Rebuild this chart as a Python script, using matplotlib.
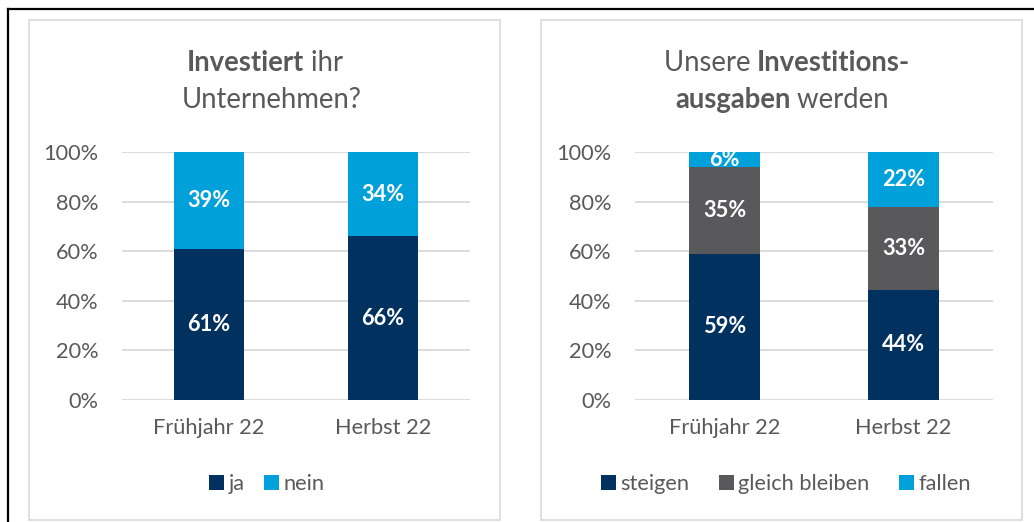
import matplotlib
matplotlib.use("Agg")
import matplotlib.pyplot as plt
from matplotlib.patches import Rectangle
from matplotlib.lines import Line2D
import numpy as np

plt.rcParams['font.family'] = ['Lato', 'DejaVu Sans']

categories = ["Frühjahr 22", "Herbst 22"]
# left chart
left_labels = ["ja", "nein"]
ja = [61, 66]
nein = [39, 34]
# right chart
right_labels = ["steigen", "gleich bleiben", "fallen"]
steigen = [59, 44]
gleich = [35, 33]
fallen = [6, 22]
yticks = [0, 20, 40, 60, 80, 100]
ytick_labels = ["0%", "20%", "40%", "60%", "80%", "100%"]

NAVY = "#00315F"
BLUE = "#00A0DA"
GRAY = "#59595B"
TXT = "#595959"
GRID = "#D9D9D9"
FS = 15.7

W, H = 1034, 522
fig = plt.figure(figsize=(W / 100, H / 100), dpi=100)

def fx(x):
    return x / W

def fy(y):
    return 1 - y / H

# outer black border lines
fig.add_artist(Line2D([fx(8), fx(8)], [fy(9), 0], color="black", lw=1.6, transform=fig.transFigure))
fig.add_artist(Line2D([fx(8), 1], [fy(9), fy(9)], color="black", lw=1.6, transform=fig.transFigure))

# panel borders
for x0, x1 in [(29, 500), (541, 1022)]:
    fig.add_artist(Rectangle((fx(x0), fy(520)), fx(x1 - x0), (520 - 20) / H,
                             fill=False, edgecolor="#D9D9D9", lw=1.2, transform=fig.transFigure))


def make_ax(x0, x1):
    ax = fig.add_axes([fx(x0), fy(400), fx(x1 - x0), (400 - 152) / H])
    ax.set_xlim(-0.5, 1.5)
    ax.set_ylim(0, 100)
    for s in ax.spines.values():
        s.set_visible(False)
    ax.set_yticks(yticks)
    ax.set_yticklabels(ytick_labels)
    ax.yaxis.grid(True, color=GRID, lw=1.3)
    ax.set_axisbelow(True)
    ax.tick_params(axis="y", length=0, pad=17, labelsize=FS, labelcolor=TXT)
    ax.tick_params(axis="x", length=0, pad=13, labelsize=FS, labelcolor=TXT)
    ax.set_xticks(range(len(categories)))
    ax.set_xticklabels(categories)
    return ax


def stacked(ax, series, colors, labels, width=0.40):
    arr = np.array(series, dtype=float)
    tot = arr.sum(axis=0)
    pct = arr / tot * 100
    bottom = np.zeros(arr.shape[1])
    handles = []
    for vals, p, c, lab in zip(arr, pct, colors, labels):
        b = ax.bar(range(arr.shape[1]), p, width, bottom=bottom, color=c, label=lab)
        handles.append(b)
        for i, (v, pp) in enumerate(zip(vals, p)):
            ax.text(i, bottom[i] + pp / 2, f"{int(v)}%", ha="center", va="center",
                    color="white", fontsize=FS, fontweight="bold")
        bottom += p
    return handles


axL = make_ax(122, 470)
hL = stacked(axL, [ja, nein], [NAVY, BLUE], left_labels)
axR = make_ax(635, 993)
hR = stacked(axR, [steigen, gleich, fallen], [NAVY, GRAY, BLUE], right_labels)

leg_kw = dict(loc="center", frameon=False, fontsize=FS, labelcolor=TXT, handlelength=0.68,
              handleheight=0.68, handletextpad=0.2)
fig.legend(handles=hL, labels=left_labels, bbox_to_anchor=(fx(267), fy(484)), ncol=2,
           columnspacing=0.9, **leg_kw)
fig.legend(handles=hR, labels=right_labels, bbox_to_anchor=(fx(786), fy(484)), ncol=3,
           columnspacing=1.35, **leg_kw)

# titles with mixed weights
fig.canvas.draw()
renderer = fig.canvas.get_renderer()


def mixed_line(parts, cx, cy, size=19.8):
    texts = []
    for s, w in parts:
        t = fig.text(0, fy(cy), s, fontsize=size, fontweight=w, color=TXT, va="center", ha="left")
        texts.append(t)
    widths = [t.get_window_extent(renderer).width for t in texts]
    total = sum(widths)
    x = cx - total / 2
    for t, wd in zip(texts, widths):
        t.set_x(fx(x))
        x += wd


mixed_line([("Investiert", "bold"), (" ihr", "normal")], 265, 63)
mixed_line([("Unternehmen?", "normal")], 272, 100)
mixed_line([("Unsere ", "normal"), ("Investitions-", "bold")], 787, 63)
mixed_line([("ausgaben", "bold"), (" werden", "normal")], 782, 100)

fig.savefig("out.png", dpi=100)
